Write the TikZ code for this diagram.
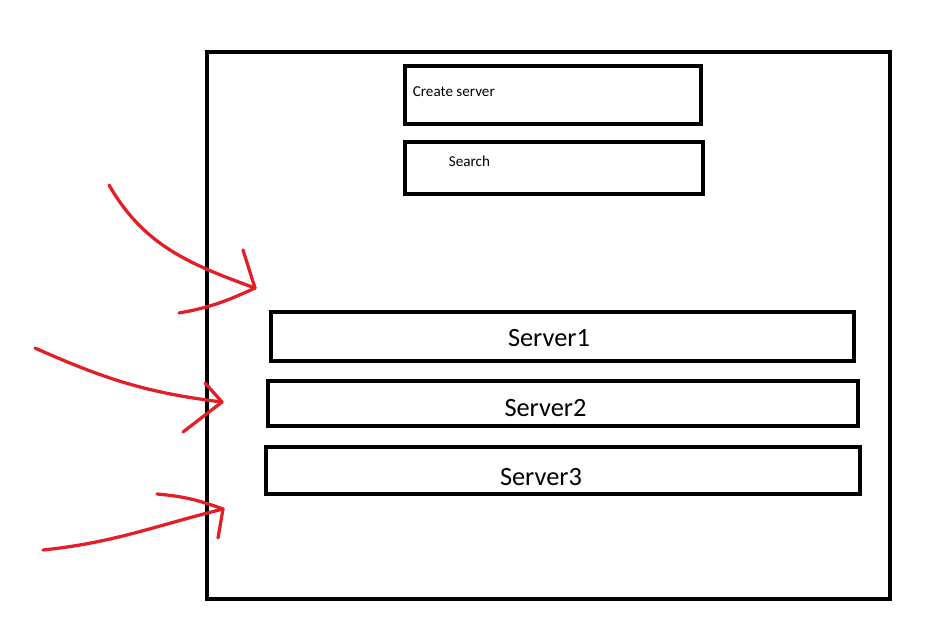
\documentclass[tikz,border=0pt]{standalone}
\usepackage{fontspec}
\setmainfont{Carlito}
\definecolor{pen}{RGB}{226,30,38}

\begin{document}
\begin{tikzpicture}[x=0.02cm, y=-0.02cm,
                    box/.style={draw, line width=0.095cm, inner sep=0pt},
                    small text/.style={font=\fontsize{8.6}{10}\selectfont},
                    big text/.style={font=\fontsize{15}{18}\selectfont},
                    red pen/.style={draw=pen, line width=0.065cm, line cap=round, line join=round}]

  \useasboundingbox[fill=white] (0,0) rectangle (951,616);

  % Cornice della finestra
  \node[box, line width=0.085cm, minimum width=13.66cm, minimum height=10.94cm] (frame) at (548.5,325.5) {};

  % Pulsanti in alto
  \node[box, minimum width=5.92cm, minimum height=1.16cm,
        label={[small text, anchor=west, xshift=0.08cm, yshift=0.06cm]west:Create server}] (create) at (553,95) {};
  \node[box, minimum width=5.96cm, minimum height=1.04cm,
        label={[small text, anchor=west, xshift=0.8cm, yshift=0.14cm]west:Search}] (search) at (554,168) {};

  % Lista dei server
  \node[box, minimum width=11.66cm, minimum height=0.98cm,
        label={[big text, xshift=-0.27cm, yshift=-0.03cm]center:Server1}] (srv1) at (562.5,336.5) {};
  \node[box, minimum width=11.8cm, minimum height=0.9cm,
        label={[big text, xshift=-0.35cm, yshift=-0.09cm]center:Server2}] (srv2) at (563,403.5) {};
  \node[box, minimum width=11.88cm, minimum height=0.94cm,
        label={[big text, xshift=-0.44cm, yshift=-0.13cm]center:Server3}] (srv3) at (563,470.5) {};

  % Frecce rosse a mano libera
  \coordinate (tail1) at (109,185);
  \coordinate (tip1) at (255,288);
  \coordinate (barbA1) at (243,250);
  \coordinate (barbB1) at (179,313);

  \coordinate (tail2) at (35,348);
  \coordinate (tip2) at (222,402);
  \coordinate (barbA2) at (205,383);
  \coordinate (barbB2) at (183,432);

  \coordinate (tail3) at (43,550);
  \coordinate (tip3) at (223,509);
  \coordinate (barbA3) at (157,494);
  \coordinate (barbB3) at (218,538);

  \path[red pen]
    (tail1) edge[out=-60, in=160] (tip1)
    (barbA1) edge (tip1)
    (barbB1) edge[out=10, in=-155] (tip1)

    (tail2) edge[out=-24, in=173] (tip2)
    (barbA2) edge (tip2)
    (barbB2) edge (tip2)

    (tail3) edge[out=6, in=-166] (tip3)
    (barbA3) edge[out=-5, in=160] (tip3)
    (barbB3) edge (tip3);

\end{tikzpicture}
\end{document}
